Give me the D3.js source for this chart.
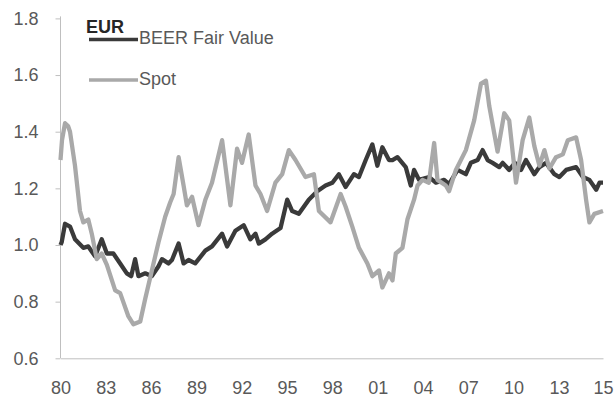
<!DOCTYPE html>
<html>
<head>
<meta charset="utf-8">
<script src="https://cdn.jsdelivr.net/npm/d3@7"></script>
<style>
  body { margin: 0; background: #fff; }
  svg { display: block; font-family: 'Liberation Sans', Arial, sans-serif; }
</style>
</head>
<body>
<svg id="chart"></svg>
<script>
const width = 614;
const height = 401;

// BEER Fair Value (decimal year, value)
const beerYears = [1980.00, 1980.08, 1980.30, 1980.63, 1980.96, 1981.51, 1981.84, 1982.29, 1982.73, 1983.07,
  1983.50, 1983.95, 1984.39, 1984.68, 1984.94, 1985.16, 1985.61, 1986.05, 1986.49, 1986.72,
  1987.15, 1987.38, 1987.82, 1988.15, 1988.48, 1988.92, 1989.59, 1990.03, 1990.70, 1991.03,
  1991.58, 1992.13, 1992.57, 1992.91, 1993.13, 1993.57, 1994.01, 1994.57, 1995.01, 1995.34,
  1995.78, 1996.44, 1997.00, 1997.55, 1998.00, 1998.43, 1998.88, 1999.43, 1999.76, 2000.21,
  2000.65, 2000.98, 2001.31, 2001.75, 2001.98, 2002.31, 2002.86, 2003.19, 2003.41, 2003.74,
  2004.41, 2004.85, 2005.40, 2005.73, 2006.29, 2006.84, 2007.17, 2007.62, 2007.95, 2008.28,
  2008.61, 2009.05, 2009.28, 2009.71, 2010.09, 2010.49, 2010.82, 2011.37, 2011.71, 2012.15,
  2012.70, 2013.03, 2013.48, 2014.14, 2014.59, 2015.02, 2015.47, 2015.69, 2015.92];
const beerValues = [1.00, 1.01, 1.075, 1.065, 1.02, 0.99, 0.995, 0.96, 1.02, 0.97,
  0.97, 0.935, 0.90, 0.89, 0.95, 0.89, 0.90, 0.89, 0.925, 0.95,
  0.935, 0.947, 1.005, 0.935, 0.947, 0.935, 0.98, 0.995, 1.04, 0.995,
  1.05, 1.07, 1.02, 1.04, 1.005, 1.02, 1.04, 1.06, 1.16, 1.12,
  1.11, 1.16, 1.19, 1.21, 1.22, 1.25, 1.205, 1.25, 1.24, 1.30,
  1.355, 1.28, 1.345, 1.30, 1.30, 1.31, 1.275, 1.21, 1.265, 1.23,
  1.24, 1.22, 1.23, 1.215, 1.265, 1.25, 1.29, 1.30, 1.335, 1.30,
  1.29, 1.275, 1.29, 1.265, 1.29, 1.265, 1.30, 1.25, 1.275, 1.29,
  1.25, 1.24, 1.265, 1.275, 1.24, 1.23, 1.195, 1.22, 1.22];

// Spot
const spotYears = [1980.00, 1980.10, 1980.30, 1980.50, 1980.63, 1980.96, 1981.29, 1981.51, 1981.84, 1982.07,
  1982.40, 1982.73, 1983.07, 1983.62, 1983.95, 1984.15, 1984.48, 1984.83, 1985.28, 1985.61,
  1986.05, 1986.49, 1986.93, 1987.26, 1987.49, 1987.82, 1988.15, 1988.37, 1988.71, 1989.14,
  1989.59, 1990.03, 1990.70, 1991.25, 1991.69, 1992.02, 1992.46, 1992.91, 1993.24, 1993.68,
  1994.23, 1994.68, 1995.12, 1995.56, 1996.22, 1996.78, 1997.11, 1997.88, 1998.55, 1998.88,
  1999.32, 1999.76, 2000.32, 2000.65, 2001.09, 2001.31, 2001.75, 2001.98, 2002.20, 2002.64,
  2002.97, 2003.41, 2003.64, 2003.97, 2004.39, 2004.74, 2004.96, 2005.51, 2005.73, 2006.18,
  2006.84, 2007.39, 2007.84, 2008.17, 2008.39, 2008.94, 2009.38, 2009.71, 2010.16, 2010.60,
  2011.04, 2011.37, 2011.71, 2012.04, 2012.37, 2012.81, 2013.26, 2013.59, 2014.14, 2014.47,
  2014.80, 2015.02, 2015.35, 2015.92];
const spotValues = [1.30, 1.37, 1.43, 1.42, 1.40, 1.28, 1.12, 1.08, 1.09, 1.04,
  0.95, 0.97, 0.93, 0.84, 0.83, 0.80, 0.75, 0.72, 0.73, 0.81,
  0.91, 1.01, 1.10, 1.15, 1.18, 1.31, 1.21, 1.14, 1.17, 1.07,
  1.16, 1.22, 1.37, 1.14, 1.34, 1.29, 1.39, 1.21, 1.18, 1.12,
  1.22, 1.25, 1.335, 1.30, 1.24, 1.25, 1.12, 1.08, 1.18, 1.135,
  1.065, 0.99, 0.935, 0.89, 0.91, 0.85, 0.90, 0.875, 0.97, 0.99,
  1.09, 1.16, 1.21, 1.23, 1.22, 1.36, 1.23, 1.21, 1.19, 1.265,
  1.335, 1.44, 1.57, 1.58, 1.49, 1.33, 1.465, 1.44, 1.22, 1.37,
  1.45, 1.35, 1.28, 1.335, 1.27, 1.31, 1.32, 1.37, 1.38, 1.30,
  1.16, 1.08, 1.11, 1.12];

const yTicks = [0.6, 0.8, 1.0, 1.2, 1.4, 1.6, 1.8];
const xTickYears = [1980, 1983, 1986, 1989, 1992, 1995, 1998, 2001, 2004, 2007, 2010, 2013, 2015.92];
const xTickLabels = ['80', '83', '86', '89', '92', '95', '98', '01', '04', '07', '10', '13', '15'];

const margin = { left: 60.5, right: 11, top: 18.4, bottom: 42.7 };

const svg = d3.select('#chart')
    .attr('width', width)
    .attr('height', height);

const x = d3.scaleLinear()
    .domain([1980, 2015.92])
    .range([margin.left, width - margin.right]);

const y = d3.scaleLinear()
    .domain([0.6, 1.8])
    .range([height - margin.bottom, margin.top]);

const textColor = '#595959';
const axisColor = '#bfbfbf';

// y axis
const yAxis = svg.append('g')
    .attr('transform', `translate(${margin.left},0)`)
    .call(d3.axisLeft(y).tickValues(yTicks).tickSize(5).tickPadding(17).tickFormat(d3.format('.1f')));
yAxis.select('.domain').attr('stroke', axisColor).attr('d', `M0,${y(1.8) - 2}V${y(0.6)}`);
yAxis.selectAll('.tick line').attr('stroke', axisColor);
yAxis.selectAll('.tick text')
    .attr('fill', textColor)
    .style('font-size', '18px');

// x axis
const xAxis = svg.append('g')
    .attr('transform', `translate(0,${y(0.6)})`)
    .call(d3.axisBottom(x).tickValues(xTickYears).tickSize(0).tickPadding(23)
        .tickFormat((d, i) => xTickLabels[i]));
xAxis.select('.domain').attr('stroke', axisColor);
xAxis.selectAll('.tick text')
    .attr('fill', textColor)
    .style('font-size', '18px');

const line = d3.line()
    .x(d => x(d[0]))
    .y(d => y(d[1]));

const beer = beerYears.map((yr, i) => [yr, beerValues[i]]);
const spot = spotYears.map((yr, i) => [yr, spotValues[i]]);

svg.append('path')
    .datum(beer)
    .attr('fill', 'none')
    .attr('stroke', '#3a3a3a')
    .attr('stroke-width', 4.3)
    .attr('stroke-linejoin', 'round')
    .attr('d', line);

svg.append('path')
    .datum(spot)
    .attr('fill', 'none')
    .attr('stroke', '#a9a9a9')
    .attr('stroke-width', 4.3)
    .attr('stroke-linejoin', 'round')
    .attr('d', line);

// legend
svg.append('text')
    .attr('x', 86)
    .attr('y', 33)
    .attr('fill', '#262626')
    .style('font-size', '18px')
    .style('font-weight', 'bold')
    .text('EUR');

const legendItems = [
  { name: 'BEER Fair Value', color: '#3a3a3a', ly: 39.5 },
  { name: 'Spot', color: '#a9a9a9', ly: 80 }
];

const legend = svg.selectAll('.legend-item')
    .data(legendItems)
    .enter().append('g')
    .attr('class', 'legend-item');

legend.append('line')
    .attr('x1', 89)
    .attr('x2', 138)
    .attr('y1', d => d.ly)
    .attr('y2', d => d.ly)
    .attr('stroke', d => d.color)
    .attr('stroke-width', 3.5);

legend.append('text')
    .attr('x', 139)
    .attr('y', d => d.ly + 4.5)
    .attr('fill', textColor)
    .style('font-size', '18px')
    .text(d => d.name);
</script>
</body>
</html>
